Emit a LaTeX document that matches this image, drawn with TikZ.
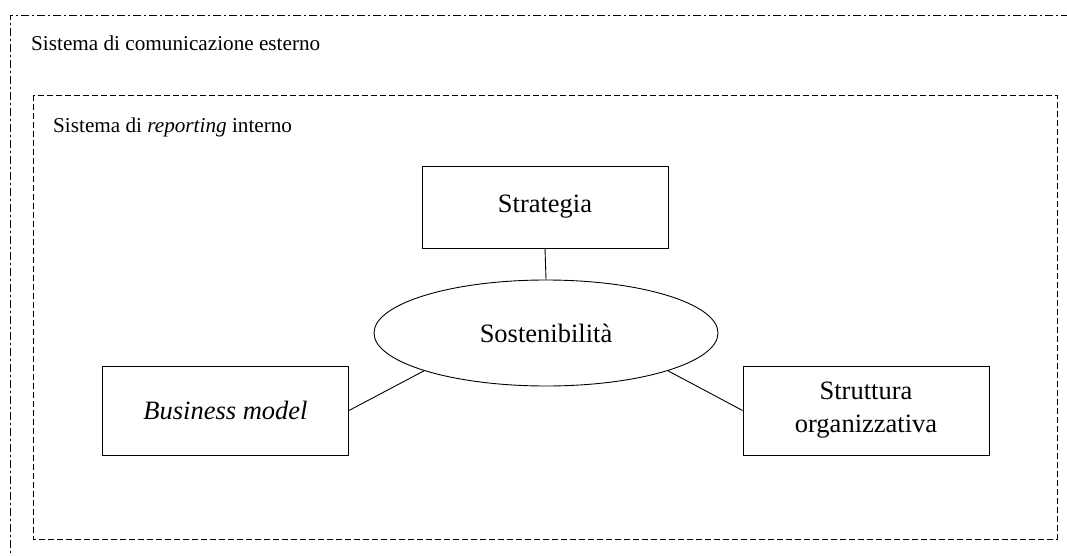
\documentclass[tikz,border=0pt]{standalone}
\usepackage{fontspec}
\setmainfont{Liberation Serif}
\usetikzlibrary{shapes.geometric}
\begin{document}
\begin{tikzpicture}[x=1pt,y=-1pt,
  lbl/.style={font=\fontsize{21.2}{25}\selectfont, inner sep=0pt, anchor=base west},
  box/.style={draw, line width=0.9pt, minimum width=246pt, minimum height=82pt, align=center, inner sep=0pt, font=\fontsize{26.5}{33}\selectfont},
  conn/.style={draw, line width=0.9pt},
  dashdot/.style={line width=0.9pt, dash pattern=on 8pt off 3pt on 2pt off 3pt},
  dashbox/.style={line width=0.9pt, dash pattern=on 6pt off 3pt}]
\useasboundingbox (0,0) rectangle (1067,556);
\clip (0,0) rectangle (1067,556);
\draw[dashdot] (10,580) -- (10,15) -- (1090,15);
\draw[dashbox] (33,95) rectangle (1057,539);
\node[lbl] (ext) at (31,51) {Sistema di comunicazione esterno};
\node[lbl] (int) at (53,133) {Sistema di \textit{reporting} interno};
\node[box] (str) at (545,207) {Strategia};
\node[draw, ellipse, line width=0.9pt, minimum width=344pt, minimum height=106pt, inner sep=0pt, font=\fontsize{26.5}{33}\selectfont] (sos) at (546,333) {Sostenibilità};
\node[box, minimum height=89pt] (bm) at (225.5,410.5) {\textit{Business model}};
\node[box, minimum height=89pt] (so) at (866,410.5) {Struttura\\organizzativa};
\draw[conn] (str.south) -- (sos.north);
\draw[conn] (sos.south west) -- (bm.east);
\draw[conn] (sos.south east) -- (so.west);
\end{tikzpicture}
\end{document}
